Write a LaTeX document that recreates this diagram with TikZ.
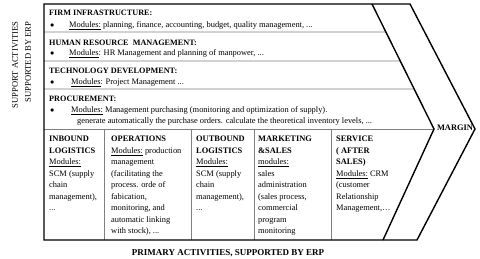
\documentclass[tikz,border=0pt]{standalone}
\usepackage{fontspec}
\setmainfont{Liberation Serif}
\usetikzlibrary{positioning, calc}

\tikzset{
  frame/.style={line width=1.4pt},
  divider/.style={gray, line width=0.6pt},
  title/.style={font=\fontsize{8.2}{11.5}\selectfont\bfseries, anchor=base west, inner sep=0pt},
  body/.style={anchor=base west, inner sep=0pt},
  column/.style={anchor=north west, inner sep=0pt, align=left},
  side/.style={font=\fontsize{8.6}{10}\selectfont, rotate=90, inner sep=0pt}
}

\begin{document}
\begin{tikzpicture}[x=1pt, y=-1pt, font=\fontsize{8.4}{11.5}\selectfont]
  \useasboundingbox (0,0) rectangle (480,259);
  % chevron corners
  \coordinate (tl) at (44,4);
  \coordinate (ti) at (372,4);
  \coordinate (to) at (410,4);
  \coordinate (pi) at (434,129);
  \coordinate (po) at (475,129);
  \coordinate (bi) at (383,240);
  \coordinate (bo) at (417,240);
  \coordinate (bl) at (44,240);

  % dividers
  \draw[divider] (44,32) -- ($(ti)!28/125!(pi)$);
  \draw[divider] (44,61) -- ($(ti)!57/125!(pi)$);
  \draw[divider] (44,89) -- ($(ti)!85/125!(pi)$);
  \draw[divider] (44,129) -- (pi);
  \foreach \x in {104,191,254,331}
    \draw[divider] (\x,129) -- (\x,240);

  % outline
  \draw[frame, line join=miter] (tl) -- (to) -- (po) -- (bo) -- (bl) -- cycle;
  \draw[frame, line join=miter] (ti) -- (pi) -- (bi);

  % support activities
  \node[title] (firm) at (49,15.7) {FIRM INFRASTRUCTURE:};
  \node[body] (b1) at (50,27.3) {$\bullet$};
  \node[body] (firmtxt) at (69,27.3) {\underline{Modules:} planning, finance, accounting, budget, quality management, ...};

  \node[title] (hrm) at (49,45.7) {HUMAN RESOURCE\ \ MANAGEMENT:};
  \node[body] (b2) at (50,56) {$\bullet$};
  \node[body] (hrmtxt) at (69,56) {\underline{Modules}: HR Management and planning of manpower, ...};

  \node[title] (tech) at (49,74) {TECHNOLOGY DEVELOPMENT:};
  \node[body] (b3) at (50,84.5) {$\bullet$};
  \node[body] (techtxt) at (71,84.5) {\underline{Modules}: Project Management ...};

  \node[title] (proc) at (49,101.7) {PROCUREMENT:};
  \node[body] (b4) at (50,112.5) {$\bullet$};
  \node[body] (proctxt) at (71,112.5) {\underline{Modules:} Management purchasing (monitoring and optimization of supply).};
  \node[body] (proctxt2) at (77,123.5) {generate automatically the purchase orders. calculate the theoretical inventory levels, ...};

  % primary activities
  \node[column] (inb) at (49,136) {\textbf{INBOUND}\\ \textbf{LOGISTICS}\\ \underline{Modules:}\\ SCM (supply\\ chain\\ management),\\ ...};
  \node[column] (ops) at (111,136) {\textbf{OPERATIONS}\\ \underline{Modules:} production\\ management\\ (facilitating the\\ process. orde of\\ fabication,\\ monitoring, and\\ automatic linking\\ with stock), ...};
  \node[column] (outb) at (196,136) {\textbf{OUTBOUND}\\ \textbf{LOGISTICS}\\ \underline{Modules:}\\ SCM (supply\\ chain\\ management),\\ ...};
  \node[column] (mkt) at (258,136) {\textbf{MARKETING}\\ \textbf{\&SALES}\\ \underline{modules:}\\ sales\\ administration\\ (sales process,\\ commercial\\ program\\ monitoring};
  \node[column] (svc) at (336,136) {\textbf{SERVICE}\\ \textbf{( AFTER}\\ \textbf{SALES)}\\ \underline{Modules:} CRM\\ (customer\\ Relationship\\ Management,\dots};

  \node[font=\fontsize{8.4}{10}\selectfont\bfseries, inner sep=0pt] (margin) at (455,128) {MARGIN};

  % side and bottom labels
  \node[side] (support) at (15,65) {SUPPORT ACTIVITIES};
  \node[side] (erp) at (28,62) {SUPPORTED BY ERP};
  \node[font=\fontsize{9}{10}\selectfont\bfseries, inner sep=0pt, anchor=base] (primary) at (228,256) {PRIMARY ACTIVITIES, SUPPORTED BY ERP};
\end{tikzpicture}
\end{document}
